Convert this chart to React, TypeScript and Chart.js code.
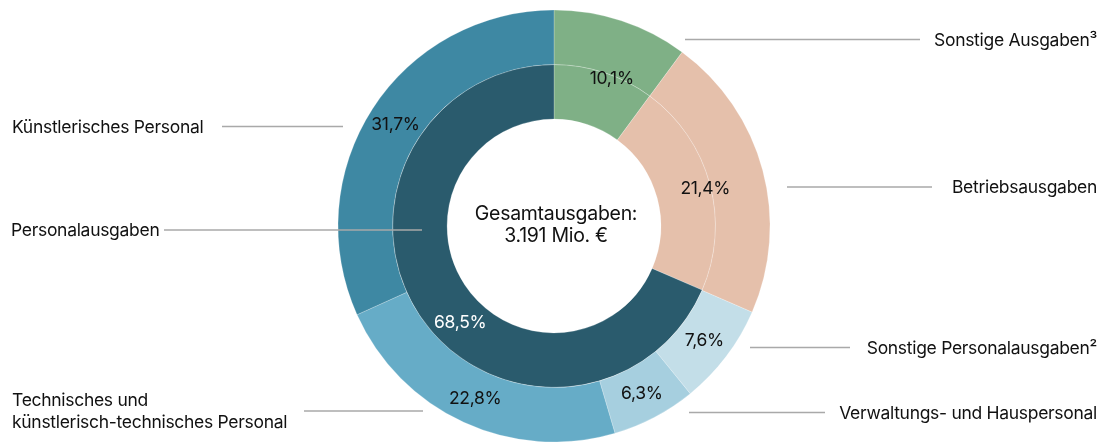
import { useEffect, useRef } from 'react';
import { Chart, registerables } from 'chart.js';

Chart.register(...registerables);

const outerCategories = [
  'Sonstige Ausgaben³',
  'Betriebsausgaben',
  'Sonstige Personalausgaben²',
  'Verwaltungs- und Hauspersonal',
  'Technisches und künstlerisch-technisches Personal',
  'Künstlerisches Personal',
];
const outerValues = [10.1, 21.4, 7.6, 6.3, 22.8, 31.7];
const innerCategories = ['Sonstige Ausgaben³', 'Betriebsausgaben', 'Personalausgaben'];
const innerValues = [10.1, 21.4, 68.5];
const outerColors = ['#7fb086', '#e5c0ab', '#c3dee8', '#a6cfdf', '#66acc7', '#3e88a3'];
const innerColors = ['#7fb086', '#e5c0ab', '#2a5b6d'];
const centerLines = ['Gesamtausgaben:', '3.191 Mio. €'];

// label placement along arcs: [datasetIndex, index, fraction of angle, fraction of ring width, color]
const pctLabels: [number, number, number, number, string][] = [
  [1, 0, 0.585, 0.96, '#111111'],
  [1, 1, 0.513, 0.9, '#111111'],
  [0, 2, 0.5, 0.5, '#111111'],
  [0, 3, 0.5, 0.5, '#111111'],
  [0, 4, 0.5, 0.5, '#111111'],
  [0, 5, 0.5, 0.5, '#111111'],
  [1, 2, 0.45, 0.5, '#ffffff'],
];

// leader annotations: text lines, line y, line x1, x2, text x, align
type Leader = { lines: string[]; y: number; x1: number; x2: number; tx: number; align: CanvasTextAlign };
const leaders: Leader[] = [
  { lines: [outerCategories[0]], y: 39.5, x1: 685, x2: 920, tx: 1097, align: 'right' },
  { lines: [outerCategories[1]], y: 187, x1: 787, x2: 932, tx: 1097, align: 'right' },
  { lines: [outerCategories[2]], y: 347.5, x1: 750, x2: 850, tx: 1097, align: 'right' },
  { lines: [outerCategories[3]], y: 412.5, x1: 689, x2: 825, tx: 1097, align: 'right' },
  { lines: [outerCategories[5]], y: 126.5, x1: 222, x2: 343, tx: 12, align: 'left' },
  { lines: [innerCategories[2]], y: 230, x1: 164, x2: 422, tx: 11, align: 'left' },
  { lines: ['Technisches und', 'künstlerisch-technisches Personal'], y: 411, x1: 304, x2: 423, tx: 12, align: 'left' },
];

const FONT = 'Inter, "Noto Sans", sans-serif';
const fmt = (v: number) => v.toFixed(1).replace('.', ',') + '%';

const annotationPlugin = {
  id: 'annotations',
  afterDatasetsDraw(chart: any) {
    const ctx: CanvasRenderingContext2D = chart.ctx;
    ctx.save();
    (ctx as any).letterSpacing = '-0.3px';
    // percent labels
    ctx.font = `17.5px ${FONT}`;
    ctx.textAlign = 'center';
    ctx.textBaseline = 'middle';
    pctLabels.forEach(([di, i, fa, fr, color]) => {
      const arc: any = chart.getDatasetMeta(di).data[i];
      if (!arc) return;
      const { x, y, startAngle, endAngle, innerRadius, outerRadius } = arc.getProps(
        ['x', 'y', 'startAngle', 'endAngle', 'innerRadius', 'outerRadius'],
        true
      );
      const a = startAngle + (endAngle - startAngle) * fa;
      const r = innerRadius + (outerRadius - innerRadius) * fr;
      const ds = chart.data.datasets[di].data as number[];
      ctx.fillStyle = color;
      ctx.fillText(fmt(ds[i]), x + Math.cos(a) * r, y + Math.sin(a) * r + 1);
    });

    // leader lines and labels
    ctx.strokeStyle = '#a9a9a9';
    ctx.lineWidth = 1.5;
    ctx.font = `17.5px ${FONT}`;
    ctx.fillStyle = '#111111';
    leaders.forEach((l) => {
      ctx.beginPath();
      ctx.moveTo(l.x1, l.y);
      ctx.lineTo(l.x2, l.y);
      ctx.stroke();
      ctx.textAlign = l.align;
      const lh = 22;
      const n = l.lines.length;
      l.lines.forEach((t, k) => {
        const yy = l.y + (k - (n - 1) / 2) * lh;
        ctx.fillText(t, l.tx, yy + 1);
      });
    });

    // center text
    const meta = chart.getDatasetMeta(0).data[0] as any;
    const cx = meta.x;
    const cy = meta.y;
    ctx.textAlign = 'center';
    ctx.font = `19.5px ${FONT}`;
    ctx.fillText(centerLines[0], cx + 2, cy - 12);
    ctx.fillText(centerLines[1], cx + 2, cy + 10);
    ctx.restore();
  },
};

export default function App() {
  const ref = useRef<HTMLCanvasElement | null>(null);
  useEffect(() => {
    if (!ref.current) return;
    const chart = new Chart(ref.current, {
      type: 'doughnut',
      data: {
        labels: outerCategories,
        datasets: [
          {
            label: 'Ausgaben (Detail)',
            data: outerValues,
            backgroundColor: outerColors,
            borderColor: 'rgba(255,255,255,0.3)',
            borderWidth: 0.75,
          },
          {
            label: 'Ausgaben',
            data: innerValues,
            backgroundColor: innerColors,
            borderColor: 'rgba(255,255,255,0.3)',
            borderWidth: 0.75,
          },
        ],
      },
      options: {
        responsive: false,
        animation: false,
        devicePixelRatio: 1,
        radius: 216,
        cutout: '49.5%',
        layout: { padding: { left: 4, right: 0, top: 10, bottom: 0 } },
        plugins: {
          legend: { display: false },
          tooltip: { enabled: false },
        },
      } as any,
      plugins: [annotationPlugin],
    });
    return () => chart.destroy();
  }, []);
  return (
    <div style={{ position: 'absolute', left: 0, top: 0, width: 1104, height: 442, background: '#fff' }}>
      <canvas ref={ref} width={1104} height={442} />
    </div>
  );
}
